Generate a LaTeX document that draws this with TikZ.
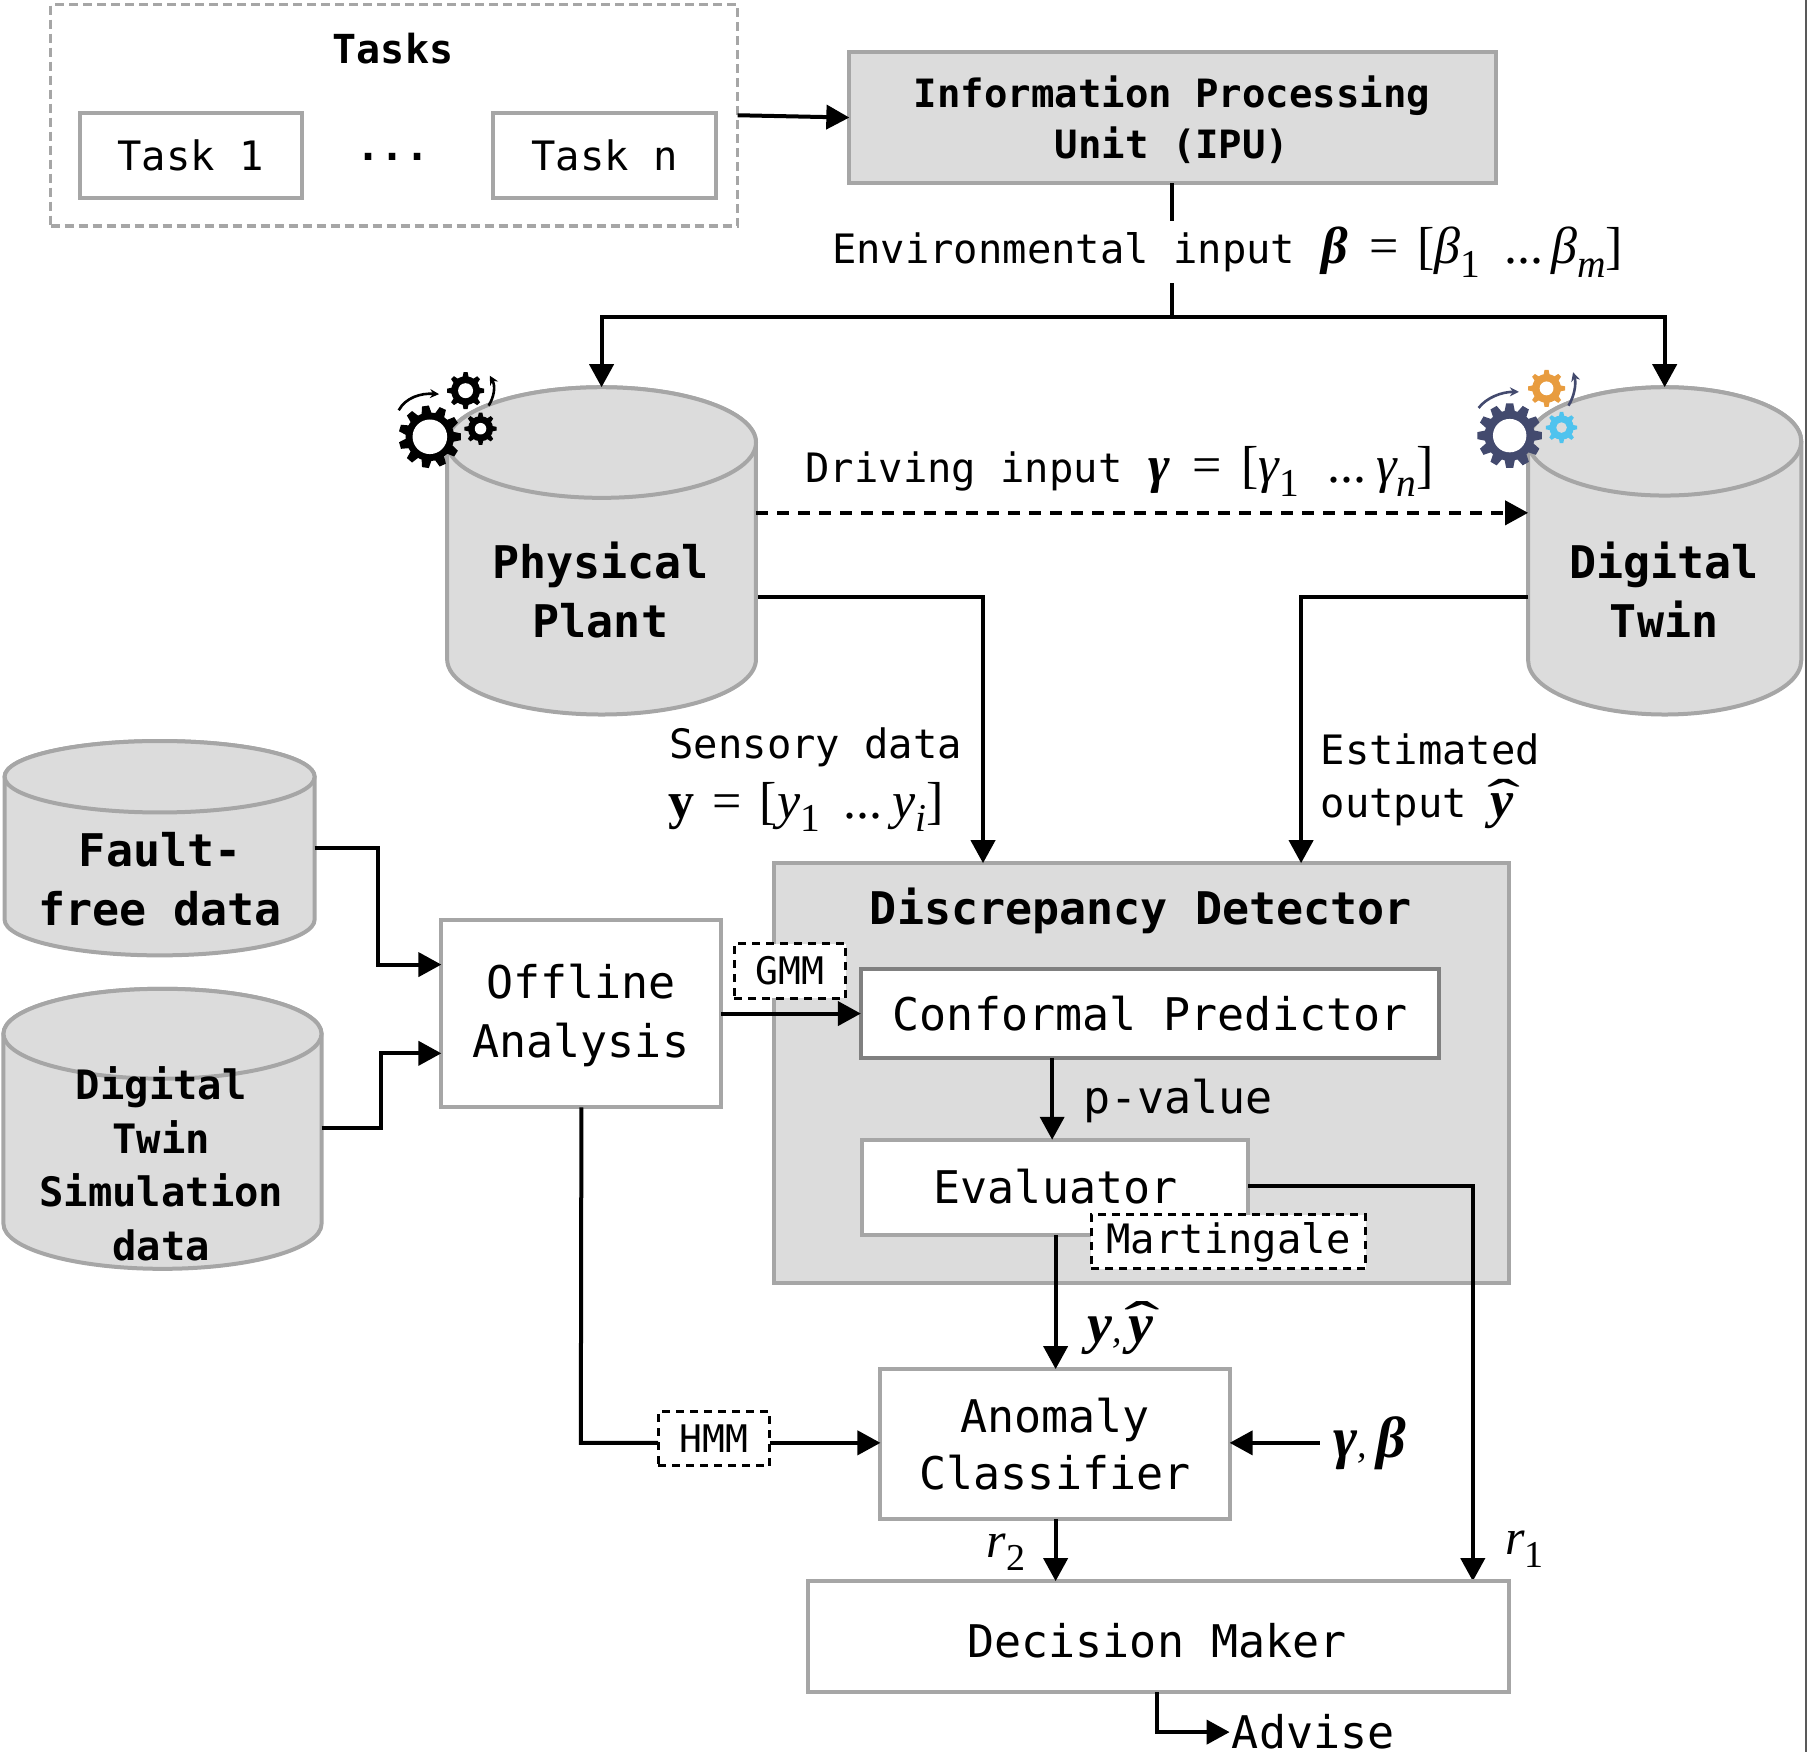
\documentclass[tikz,border=0pt]{standalone}
\usepackage{fontspec}
\usepackage{graphicx}
\usetikzlibrary{arrows.meta,calc}
\setmainfont{DejaVu Sans Mono}
\newfontfamily\mth{Liberation Serif}
\definecolor{bord}{HTML}{A6A6A6}
\definecolor{fillg}{HTML}{DCDCDC}
\definecolor{navy}{HTML}{434A6E}
\definecolor{orng}{HTML}{E89C3F}
\definecolor{skyb}{HTML}{4FC3EE}
\newcommand\fs[2]{\fontsize{#1}{#2}\selectfont}
% math-like pieces, set in Liberation Serif at 52
\newcommand\mfont{\mth\fs{52}{56}}
\newcommand\bi[1]{{\mfont\bfseries\itshape #1}}
\newcommand\im[1]{{\mfont\itshape #1}}
\newcommand\mr[1]{{\mfont #1}}
\newcommand\sbx[1]{\raisebox{-0.26em}{\scalebox{0.76}{#1}}}
\newcommand\gp[1]{\hspace*{#1pt}}
% y with a wide hat
\newcommand\yhat{{\makebox[0pt][l]{y}\makebox[0.5em][c]{\raisebox{0.04em}{\scalebox{1.9}[1]{\mdseries\upshape ˆ}}}}}
\def\U{1.1524}
% \bx{name}{x1}{y1}{x2}{y2}{style}{text}
\newcommand\bx[7]{%
  \pgfmathsetmacro\bw{(#4-#2)*\U}\pgfmathsetmacro\bh{(#5-#3)*\U}%
  \pgfmathsetmacro\bcx{(#2+#4)/2}\pgfmathsetmacro\bcy{(#3+#5)/2}%
  \node[#6,minimum width=\bw pt,minimum height=\bh pt] (#1) at (\bcx,\bcy) {#7};}
% \cyl{name}{x1}{x2}{top}{bottom}{ry}
\newcommand\cyl[6]{%
  \pgfmathsetmacro\rx{(#3-#2)/2}\pgfmathsetmacro\cxx{(#2+#3)/2}%
  \pgfmathsetmacro\ct{#4+#6}\pgfmathsetmacro\cb{#5-#6}%
  \draw[cylline] (#2,\ct) -- (#2,\cb) arc[start angle=180,end angle=360,x radius=\rx,y radius=-#6] -- (#3,\ct)
     arc[start angle=0,end angle=180,x radius=\rx,y radius=-#6] -- cycle;
  \draw[cylline] (\cxx,\ct) ellipse[x radius=\rx,y radius=#6];
  \pgfmathsetmacro\bw{(#3-#2)*\U}\pgfmathsetmacro\bh{(#5-#4)*\U}\pgfmathsetmacro\bcy{(#4+#5)/2}%
  \node[minimum width=\bw pt,minimum height=\bh pt,inner sep=0pt,outer sep=0pt] (#1) at (\cxx,\bcy) {};}
% \gear{x}{y}{outer}{hole}{teeth}{colour}{holecolour}
\newcommand\gear[7]{%
  \fill[#6] (#1,#2) circle[radius=#3*0.78];
  \foreach \a in {1,...,#5}{%
    \fill[#6,shift={(#1,#2)},rotate=\a*360/#5] (#3*0.7,-#3*0.17) -- (#3,-#3*0.11) -- (#3,#3*0.11) -- (#3*0.7,#3*0.17) -- cycle;}
  \fill[#7] (#1,#2) circle[radius=#4];}
\tikzset{
  box/.style={draw=bord,line width=4pt,fill=white,inner sep=0pt,outer sep=0pt,align=center,font=\fs{45}{59}},
  gbox/.style={box,fill=fillg},
  dbox/.style={draw=black,line width=3pt,dash pattern=on 8pt off 6pt,fill=white,inner sep=0pt,outer sep=0pt,align=center},
  cylline/.style={draw=bord,line width=4pt,fill=fillg},
  conn/.style={line width=4pt,black},
  arr/.style={conn,-{Triangle[length=23pt,width=24pt]}},
  thinarr/.style={line width=2.6pt,-{Stealth[length=9pt,width=9pt]}},
  lab/.style={inner sep=0pt,outer sep=0pt,anchor=base west,font=\fs{40.5}{50}},
  big/.style={inner sep=0pt,align=center,font=\fs{45}{59}\bfseries},
  txt/.style={inner sep=0pt,outer sep=0pt,align=center,font=\fs{45}{59}},
}
\begin{document}
\begin{tikzpicture}[x=1.1524pt,y=-1.1524pt]
\useasboundingbox (0,0) rectangle (1568,1520.3);
% right edge rule
\draw[line width=1.6pt,black!65] (1567,0) -- (1567,1520.3);
% Tasks
\bx{tasks}{44}{4}{640}{196}{draw=bord,line width=3.5pt,dash pattern=on 9pt off 5pt}{}
\node[inner sep=0pt,font=\fs{40}{44}\bfseries] (taskt) at (341,42) {Tasks};
\bx{t1}{69}{98}{262}{172}{box,font=\fs{40.5}{48}}{Task 1}
\bx{tn}{428}{98}{621}{172}{box,font=\fs{40.5}{48}}{Task n}
\node[inner sep=0pt,font=\fs{40}{48}\bfseries] (dots) at (341,136) {...};
% IPU
\bx{ipu}{737}{45}{1298}{159}{gbox}{}
\node[txt,font=\fs{39}{51}\bfseries] (iput) at (1017,104) {Information Processing\\Unit (IPU)};
\coordinate (tasksout) at (640,100);
\coordinate (ipuin) at (737,102);
\draw[arr] (tasksout) -- (ipuin);
% cylinders
\cyl{pp}{388}{656}{336}{620}{48}
\cyl{dt}{1326}{1563}{336}{620}{47}
\cyl{ff}{4}{273}{643}{829}{31}
\cyl{ds}{3}{279}{858}{1101}{39}
\node[big] (ppt) at (521,512) {Physical\\Plant};
\node[big] (dtt) at (1444,512) {Digital\\Twin};
\node[big] (fft) at (139,763) {Fault-\\free data};
\node[big,font=\fs{40.5}{53.5}\bfseries] (dst) at (140,1010) {Digital\\Twin\\Simulation\\data};
% split
\coordinate (split) at (1017,275);
\draw[conn] (ipu.south -| split) -- (split);
\draw[arr] (split) -| (pp.north);
\draw[arr] (split) -| (dt.north);
\node[lab,anchor=west,fill=white,inner ysep=0pt,minimum height=62pt] (envl) at (722,219) {\fs{40.5}{46}Environmental input\gp{26}\bi{β}\gp{22}\mr{=}\gp{18}\mr{[}\im{β}\mr{\sbx{1}}\gp{24}\mr{...}\gp{8}\im{β}\mr{\sbx{\itshape m}}\mr{]}};
% Driving
\coordinate (ppd) at (656,445);
\coordinate (dtd) at (1326,445);
\draw[arr,dash pattern=on 12pt off 9pt] (ppd) -- (dtd);
\node[lab] (drvl) at (699,419) {Driving input\gp{26}\bi{γ}\gp{22}\mr{=}\gp{20}\mr{[}\im{γ}\mr{\sbx{1}}\gp{28}\mr{...}\gp{10}\im{γ}\mr{\sbx{\itshape n}}\mr{]}};
% Discrepancy
\bx{dd}{672}{749}{1309}{1113}{gbox}{}
\node[inner sep=0pt,font=\fs{45}{50}\bfseries] (ddt) at (990,790) {Discrepancy Detector};
\bx{cp}{747}{841}{1249}{918}{box,draw=black!50}{Conformal Predictor}
\bx{ev}{748}{989}{1083}{1072}{box}{}
\node[inner sep=0pt,font=\fs{45}{50}] (evt) at (916,1030) {Evaluator};
\bx{mart}{947}{1054}{1185}{1101}{dbox}{}
\node[txt,font=\fs{40.5}{46}] (martt) at (1066,1078) {Martingale};
% sensory, estimated
\coordinate (ppS) at (658,518);
\coordinate (dtS) at (1326,518);
\coordinate (ddA) at (853,749);
\coordinate (ddB) at (1129,749);
\draw[arr] (ppS) -| (ddA);
\draw[arr] (dtS) -| (ddB);
\node[lab] (sens) at (581,658) {Sensory data};
\node[lab] (sens2) at (580,710) {\mr{\bfseries y}\gp{18}\mr{=}\gp{18}\mr{[}\im{y}\mr{\sbx{1}}\gp{24}\mr{...}\gp{10}\im{y}\mr{\sbx{\itshape i}}\mr{]}};
\node[lab] (est) at (1146,663) {Estimated};
\node[lab] (est2) at (1146,709) {output\gp{24}{\mfont\bfseries\itshape\yhat}};
% left side
\bx{off}{383}{798}{626}{961}{box}{}
\node[txt] (offt) at (504,881) {Offline\\Analysis};
\coordinate (ffo) at (273,736);
\coordinate (dso) at (279,979);
\coordinate (offa) at (383,837);
\coordinate (offb) at (383,914);
\coordinate (ffm) at (328,736);
\coordinate (dsm) at (331,979);
\draw[arr] (ffo) -- (ffm) |- (offa);
\draw[arr] (dso) -- (dsm) |- (offb);
\bx{gmm}{637}{819}{734}{866}{dbox,font=\fs{38}{44}}{GMM}
\draw[arr] (off.east) -- (cp.west);
% inside detector
\coordinate (cpo) at (913,918);
\coordinate (evi) at (913,989);
\draw[arr] (cpo) -- (evi);
\node[lab,anchor=west,font=\fs{45}{50}] (pv) at (940,955) {p-value};
\coordinate (evo) at (1083,1029);
\coordinate (dmb) at (1278,1372);
\draw[arr] (evo) -| (dmb);
\node[inner sep=0pt,font=\fs{50}{50}\mth] (r1) at (1323,1344) {\textit{r}\sbx{1}};
% classifier
\bx{ac}{764}{1188}{1067}{1318}{box,font=\fs{45}{57}}{Anomaly\\Classifier}
\coordinate (evd) at (916,1072);
\draw[arr] (evd) -- (ac.north -| evd);
\node[lab,font=\fs{56}{58}\mth\bfseries\itshape] (yy) at (944,1165) {y{\mdseries\fs{38}{40},}\gp{6}\yhat};
\bx{hmm}{571}{1225}{668}{1272}{dbox,font=\fs{38}{44}}{HMM}
\coordinate (hmi) at (571,1252);
\coordinate (hmo) at (668,1252);
\coordinate (aci) at (764,1252);
\coordinate (offd) at (504,1252);
\draw[conn] (off.south) -- (offd) -- (hmi);
\draw[arr] (hmo) -- (aci);
\coordinate (gbs) at (1145,1252);
\coordinate (ace) at (1067,1252);
\draw[arr] (gbs) -- (ace);
\node[lab,font=\fs{58}{60}\mth\bfseries\itshape] (gb) at (1157,1265) {γ{\mdseries\fs{38}{40},}\gp{9}β};
% decision
\bx{dm}{701}{1372}{1309}{1468}{box}{}
\node[txt] (dmt) at (1004,1424) {Decision Maker};
\coordinate (aco) at (916,1318);
\coordinate (dmi) at (916,1372);
\draw[arr] (aco) -- (dmi);
\node[inner sep=0pt,font=\fs{50}{50}\mth] (r2) at (873,1347) {\textit{r}\sbx{2}};
\coordinate (dmo) at (1004,1468);
\coordinate (adv) at (1067,1503);
\draw[arr] (dmo) |- (adv);
\node[lab,anchor=west,font=\fs{45}{50}] (advt) at (1069,1503) {Advise};
% gears: physical
\gear{373}{379}{27}{15}{11}{black}{white}
\gear{404}{339}{16}{6.5}{8}{black}{white}
\gear{417}{372}{14}{5}{8}{black}{white}
\draw[thinarr,black] (346,356) .. controls (352,345) and (365,341) .. (381,342);
\draw[thinarr,black] (424,352) .. controls (429,344) and (430,335) .. (425,326);
% gears: twin
\gear{1310}{378}{28}{14.5}{12}{navy}{white}
\gear{1342}{337}{16}{6}{8}{orng}{white}
\gear{1355}{371}{13.6}{4.6}{8}{skyb}{fillg}
\draw[thinarr,navy] (1283,354) .. controls (1290,345) and (1303,340) .. (1318,340);
\draw[thinarr,navy] (1361,352) .. controls (1366,344) and (1368,333) .. (1365,323);
\end{tikzpicture}
\end{document}
